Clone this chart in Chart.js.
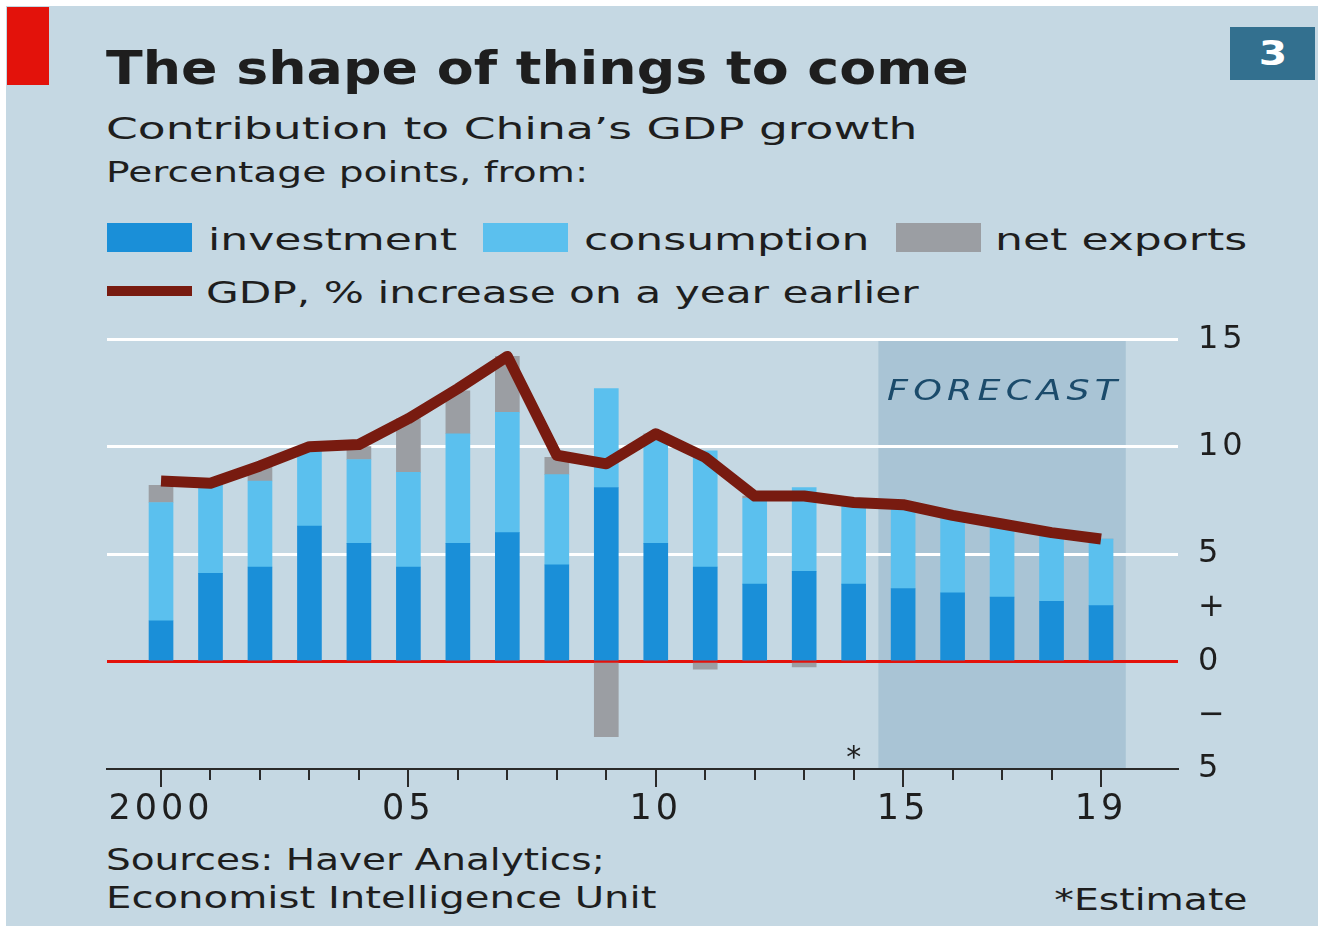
<!DOCTYPE html>
<html>
<head>
<meta charset="utf-8">
<script src="https://cdn.jsdelivr.net/npm/chart.js@4.4.1/dist/chart.umd.min.js"></script>
<style>
  body { margin: 0; background: #fff; width: 1330px; height: 931px; overflow: hidden; position: relative;
         font-family: "DejaVu Sans", sans-serif; color: #1e1e1e; }
  #panel { position: absolute; left: 6px; top: 6px; width: 1312px; height: 920px; background: #c5d8e3; }
  #tab { position: absolute; left: 7px; top: 7px; width: 42px; height: 78px; background: #e3120b; }
  #num { position: absolute; left: 1230px; top: 27px; width: 85px; height: 53px; background: #33708f;
         color: #fff; font-weight: bold; font-size: 34px; line-height: 53px; text-align: center; }
  .t { position: absolute; white-space: nowrap; line-height: 1; transform-origin: 0 0; }
  .sw { position: absolute; }
  canvas { position: absolute; left: 0; top: 300px; }
</style>
</head>
<body>
<div id="panel"></div>
<div id="tab"></div>
<div id="num"><span style="display:inline-block;transform:scaleX(1.2)">3</span></div>

<div class="t" style="left:106px;top:45px;font-size:46px;font-weight:bold;transform:scaleX(1.17)">The shape of things to come</div>
<div class="t" style="left:106px;top:113px;font-size:31px;transform:scaleX(1.47)">Contribution to China’s GDP growth</div>
<div class="t" style="left:106px;top:158px;font-size:29px;transform:scaleX(1.35)">Percentage points, from:</div>

<div class="sw" style="left:107px;top:223px;width:85px;height:29px;background:#1a8fd8"></div>
<div class="t" style="left:208px;top:225px;font-size:30px;transform:scaleX(1.47)">investment</div>
<div class="sw" style="left:483px;top:223px;width:85px;height:29px;background:#5bc0ee"></div>
<div class="t" style="left:584px;top:225px;font-size:30px;transform:scaleX(1.47)">consumption</div>
<div class="sw" style="left:896px;top:223px;width:85px;height:29px;background:#9b9ea3"></div>
<div class="t" style="left:995px;top:225px;font-size:30px;transform:scaleX(1.47)">net exports</div>
<div class="sw" style="left:107px;top:286px;width:85px;height:10px;background:#781b10"></div>
<div class="t" style="left:206px;top:278px;font-size:30px;transform:scaleX(1.41)">GDP, % increase on a year earlier</div>

<div class="t" style="left:106px;top:845px;font-size:30px;transform:scaleX(1.3)">Sources: Haver Analytics;</div>
<div class="t" style="left:106px;top:883px;font-size:30px;transform:scaleX(1.34)">Economist Intelligence Unit</div>
<div class="t" style="right:82px;top:885px;font-size:30px;transform-origin:100% 0;transform:scaleX(1.31)">*Estimate</div>

<canvas id="chart" width="1330" height="540"></canvas>

<script>
const years = [2000, 2001, 2002, 2003, 2004, 2005, 2006, 2007, 2008, 2009,
               2010, 2011, 2012, 2013, 2014, 2015, 2016, 2017, 2018, 2019];
const investment  = [1.9, 4.1, 4.4, 6.3, 5.5, 4.4, 5.5, 6.0, 4.5, 8.1,
                     5.5, 4.4, 3.6, 4.2, 3.6, 3.4, 3.2, 3.0, 2.8, 2.6];
const consumption = [5.5, 4.1, 4.0, 3.5, 3.9, 4.4, 5.1, 5.6, 4.2, 4.6,
                     4.8, 5.4, 4.0, 3.9, 3.7, 3.9, 3.6, 3.4, 3.2, 3.1];
const netExports  = [0.8, 0.1, 0.7, 0.2, 0.6, 2.5, 2.0, 2.6, 0.8, -3.5,
                     0.3, -0.35, 0.1, -0.25, 0.1, 0, 0, 0, 0, 0];
const gdp         = [8.4, 8.3, 9.1, 10.0, 10.1, 11.3, 12.7, 14.2, 9.6, 9.2,
                     10.6, 9.5, 7.7, 7.7, 7.4, 7.3, 6.8, 6.4, 6.0, 5.7];

const forecastYears = [2015, 2019];
const estimateYear = 2014;
const xTickLabels = {2000: '2000', 2005: '05', 2010: '10', 2015: '15', 2019: '19'};
const yTickLabels = {'-5': '5', '-2.5': '\u2212', '0': '0', '2.5': '+', '5': '5', '10': '10', '15': '15'};

const pts = arr => years.map((yr, i) => ({x: yr, y: arr[i]}));

const extras = {
  id: 'extras',
  beforeDraw(chart) {
    const {ctx, scales: {x, y}} = chart;
    const l = x.getPixelForValue(forecastYears[0] - 0.5);
    const r = x.getPixelForValue(forecastYears[1] + 0.5);
    const top = y.getPixelForValue(15), bot = y.getPixelForValue(-5);
    ctx.save();
    ctx.fillStyle = '#a9c4d5';
    ctx.fillRect(l, top, r - l, bot - top);
    ctx.translate((l + r) / 2, y.getPixelForValue(12.5));
    ctx.scale(1.3, 1);
    ctx.font = 'italic 28px "DejaVu Sans"';
    ctx.letterSpacing = '4px';
    ctx.fillStyle = '#1b4b6b';
    ctx.textAlign = 'center';
    ctx.textBaseline = 'middle';
    ctx.fillText('FORECAST', 2, 0);
    ctx.restore();
    // wider spacing for the axis labels
    ctx.letterSpacing = '4px';
  },
  afterDraw(chart) {
    const {ctx, scales: {x, y}} = chart;
    ctx.save();
    ctx.letterSpacing = '0px';
    const base = y.getPixelForValue(-5);
    ctx.strokeStyle = '#2a2a2a';
    ctx.lineWidth = 2;
    years.forEach(yr => {
      const px = Math.round(x.getPixelForValue(yr));
      const len = xTickLabels[yr] ? 18 : 11;
      ctx.beginPath();
      ctx.moveTo(px, base);
      ctx.lineTo(px, base + len);
      ctx.stroke();
    });
    ctx.fillStyle = '#1e1e1e';
    ctx.font = '30px "DejaVu Sans"';
    ctx.textAlign = 'center';
    ctx.textBaseline = 'alphabetic';
    ctx.fillText('*', x.getPixelForValue(estimateYear), base - 2);
    ctx.restore();
  }
};

new Chart(document.getElementById('chart').getContext('2d'), {
  data: {
    datasets: [
      {type: 'line', label: 'GDP, % increase on a year earlier', data: pts(gdp), stack: 'gdp', order: 0,
       borderColor: '#781b10', borderWidth: 11, pointRadius: 0, tension: 0, fill: false,
       borderJoinStyle: 'round', borderCapStyle: 'butt'},
      {type: 'bar', label: 'investment', data: pts(investment), stack: 'parts', order: 1,
       backgroundColor: '#1a8fd8', barThickness: 24},
      {type: 'bar', label: 'consumption', data: pts(consumption), stack: 'parts', order: 1,
       backgroundColor: '#5bc0ee', barThickness: 24},
      {type: 'bar', label: 'net exports', data: pts(netExports), stack: 'parts', order: 1,
       backgroundColor: '#9b9ea3', barThickness: 24}
    ]
  },
  options: {
    responsive: false,
    animation: false,
    devicePixelRatio: 1,
    layout: {padding: {left: 107, top: 39, right: 0, bottom: 0}},
    plugins: {legend: {display: false}, tooltip: {enabled: false}},
    scales: {
      x: {
        type: 'linear', min: 1998.908, max: 2020.556, stacked: true, offset: false,
        grid: {display: false, drawTicks: false, offset: false},
        border: {display: true, color: '#2a2a2a', width: 2},
        ticks: {stepSize: 1, autoSkip: false, includeBounds: false, maxRotation: 0, padding: 20,
                color: '#1e1e1e', font: {family: 'DejaVu Sans', size: 35},
                callback: v => xTickLabels[v] || ''},
        afterFit: a => { a.height = 71; }
      },
      y: {
        position: 'right', stacked: true, min: -5, max: 15,
        grid: {drawTicks: false,
               color: c => c.tick.value === 0 ? '#e3120b' : (c.tick.value > 0 && c.tick.value % 5 === 0 ? '#ffffff' : 'rgba(0,0,0,0)'),
               lineWidth: 3},
        border: {display: false},
        ticks: {stepSize: 2.5, padding: 20, color: '#1e1e1e', font: {family: 'DejaVu Sans', size: 32},
                callback: v => yTickLabels[String(v)] || ''},
        afterFit: a => { a.width = 152; }
      }
    }
  },
  plugins: [extras]
});
</script>
</body>
</html>
